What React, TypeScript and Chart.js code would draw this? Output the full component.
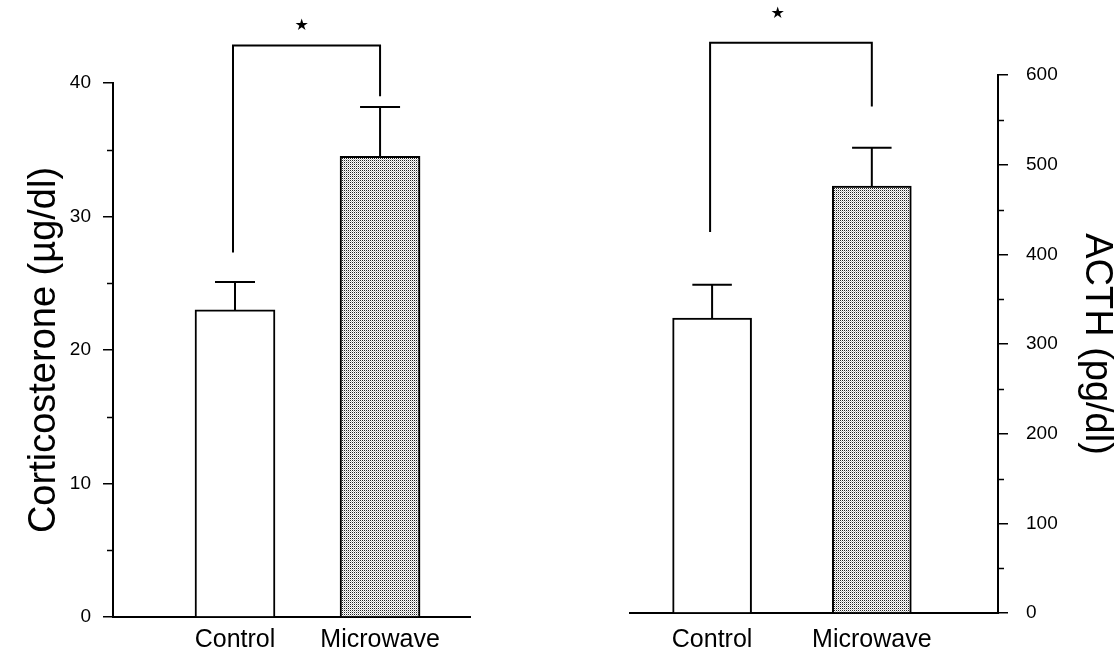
import React, { useEffect, useRef } from 'react';
import { Chart, registerables } from 'chart.js';

Chart.register(...registerables);

const categories = ['Control', 'Microwave'];
const corticosterone = [23.0, 34.5];
const corticosteroneSem = [2.1, 3.7];
const acth = [329, 476];
const acthSem = [37, 43];
const cortTickStep = 10;
const acthTickStep = 100;
// significance bracket levels: [left leg end, bracket top, right leg end]
const cortBracket = [27.3, 42.8, 39.0];
// star position: [x (category index scale), y level]
const cortStar = [1.46, 44.3];
const acthBracket = [425, 636, 565];
const acthStar = [1.41, 668];

const FONT = '"Liberation Sans", Arial, Helvetica, sans-serif';

function makePattern(): CanvasPattern | string {
  const pc = document.createElement('canvas');
  pc.width = 2;
  pc.height = 2;
  const c = pc.getContext('2d');
  if (!c) return '#b5b5b5';
  c.fillStyle = '#ffffff';
  c.fillRect(0, 0, 2, 2);
  c.fillStyle = '#222222';
  c.fillRect(0, 0, 1, 1);
  c.fillStyle = '#bbbbbb';
  c.fillRect(1, 1, 1, 1);
  const p = c.createPattern(pc, 'repeat');
  return p || '#b5b5b5';
}

function overlayPlugin(values: number[], sem: number[], bracket: number[], star: number[]) {
  return {
    id: 'overlay',
    afterDatasetsDraw(chart: any) {
      const ctx = chart.ctx;
      const y = chart.scales.y;
      const x = chart.scales.x;
      const meta = chart.getDatasetMeta(0);
      ctx.save();
      ctx.strokeStyle = '#000';
      ctx.lineWidth = 2;
      meta.data.forEach((bar: any, i: number) => {
        const px = bar.x;
        const w = bar.width;
        const yTop = y.getPixelForValue(values[i]);
        const yErr = y.getPixelForValue(values[i] + sem[i]);
        ctx.beginPath();
        ctx.moveTo(px, yTop);
        ctx.lineTo(px, yErr);
        ctx.moveTo(px - w / 4, yErr);
        ctx.lineTo(px + w / 4, yErr);
        ctx.stroke();
      });
      const x0 = meta.data[0].x - 2;
      const x1 = meta.data[1].x;
      ctx.beginPath();
      ctx.moveTo(x0, y.getPixelForValue(bracket[0]));
      ctx.lineTo(x0, y.getPixelForValue(bracket[1]));
      ctx.lineTo(x1, y.getPixelForValue(bracket[1]));
      ctx.lineTo(x1, y.getPixelForValue(bracket[2]));
      ctx.stroke();
      ctx.fillStyle = '#000';
      ctx.font = '16px "DejaVu Sans"';
      ctx.textAlign = 'center';
      ctx.textBaseline = 'middle';
      ctx.fillText('\u2605', x.getPixelForValue(star[0]), y.getPixelForValue(star[1]));
      ctx.restore();
    },
    afterDraw(chart: any) {
      const ctx = chart.ctx;
      const y = chart.scales.y;
      const ticks = y.ticks;
      const isRight = y.position === 'right';
      const ax = isRight ? y.left : y.right;
      ctx.save();
      ctx.strokeStyle = '#000';
      ctx.lineWidth = 1.5;
      for (let i = 0; i < ticks.length - 1; i++) {
        const mid = (ticks[i].value + ticks[i + 1].value) / 2;
        const py = Math.round(y.getPixelForValue(mid)) + 0.5;
        ctx.beginPath();
        ctx.moveTo(ax, py);
        ctx.lineTo(isRight ? ax + 6 : ax - 6, py);
        ctx.stroke();
      }
      ctx.restore();
    },
  };
}

function buildConfig(opts: {
  values: number[];
  sem: number[];
  bracket: number[];
  star: number[];
  yMax: number;
  step: number;
  title: string;
  side: 'left' | 'right';
  xMin: number;
  xMax: number;
  padding: any;
  yWidth: number;
  xHeight: number;
  xPad: number;
  tickPad: number;
  titlePad: number;
  barThickness: number;
  pattern: any;
}) {
  return {
    type: 'bar' as const,
    data: {
      datasets: [
        {
          data: opts.values.map((v, i) => ({ x: i + 1, y: v })),
          backgroundColor: ['#ffffff', opts.pattern],
          borderColor: '#000',
          borderWidth: 2,
          barThickness: opts.barThickness,
        },
      ],
    },
    options: {
      responsive: false,
      animation: false,
      layout: { padding: opts.padding },
      plugins: { legend: { display: false }, tooltip: { enabled: false } },
      scales: {
        x: {
          type: 'linear' as const,
          min: opts.xMin,
          max: opts.xMax,
          offset: false,
          bounds: 'data' as const,
          grid: { display: false, drawTicks: false, offset: false },
          border: { display: true, color: '#000', width: 2 },
          afterBuildTicks: (s: any) => {
            s.ticks = categories.map((_, i) => ({ value: i + 1 }));
          },
          afterFit: (s: any) => {
            s.height = opts.xHeight;
          },
          ticks: {
            padding: opts.xPad,
            color: '#000',
            font: { size: 25, family: FONT },
            autoSkip: false,
            maxRotation: 0,
            callback: (v: any) => categories[Math.round(v) - 1] ?? '',
          },
        },
        y: {
          position: opts.side,
          min: 0,
          max: opts.yMax,
          grid: {
            drawOnChartArea: false,
            drawTicks: true,
            tickLength: 10,
            color: '#000',
            lineWidth: 1.5,
          },
          border: { display: true, color: '#000', width: 2 },
          afterFit: (s: any) => {
            s.width = opts.yWidth;
          },
          ticks: {
            stepSize: opts.step,
            padding: opts.tickPad,
            color: '#000',
            font: { size: 19, family: FONT },
          },
          title: {
            display: true,
            text: opts.title,
            color: '#000',
            font: { size: 38, family: FONT, weight: 'normal' as const },
            padding: { top: opts.titlePad, bottom: 0 },
          },
        },
      },
    },
    plugins: [overlayPlugin(opts.values, opts.sem, opts.bracket, opts.star)],
  };
}

export default function App() {
  const leftRef = useRef<HTMLCanvasElement | null>(null);
  const rightRef = useRef<HTMLCanvasElement | null>(null);

  useEffect(() => {
    const pattern = makePattern();
    const charts: Chart[] = [];
    if (leftRef.current) {
      charts.push(
        new Chart(
          leftRef.current,
          buildConfig({
            values: corticosterone,
            sem: corticosteroneSem,
            bracket: cortBracket,
            star: cortStar,
            yMax: 40,
            step: cortTickStep,
            title: 'Corticosterone (\u00b5g/dl)',
            side: 'left',
            xMin: 0.159,
            xMax: 2.62,
            padding: { top: 83, right: 50, left: 0, bottom: 0 },
            yWidth: 113,
            xHeight: 48,
            xPad: 8,
            tickPad: 12,
            titlePad: 22,
            barThickness: 80,
            pattern,
          }) as any
        )
      );
    }
    if (rightRef.current) {
      charts.push(
        new Chart(
          rightRef.current,
          buildConfig({
            values: acth,
            sem: acthSem,
            bracket: acthBracket,
            star: acthStar,
            yMax: 600,
            step: acthTickStep,
            title: 'ACTH (pg/dl)',
            side: 'right',
            xMin: 0.486,
            xMax: 2.79,
            padding: { top: 75, right: 0, left: 70, bottom: 0 },
            yWidth: 121,
            xHeight: 52,
            xPad: 12,
            tickPad: 18,
            titlePad: 0,
            barThickness: 79,
            pattern,
          }) as any
        )
      );
    }
    return () => charts.forEach((c) => c.destroy());
  }, []);

  return (
    <div style={{ position: 'fixed', left: 0, top: 0, width: 1119, height: 665, background: '#fff' }}>
      <canvas ref={leftRef} width={520} height={665} style={{ position: 'absolute', left: 0, top: 0 }} />
      <canvas ref={rightRef} width={559} height={665} style={{ position: 'absolute', left: 560, top: 0 }} />
    </div>
  );
}
